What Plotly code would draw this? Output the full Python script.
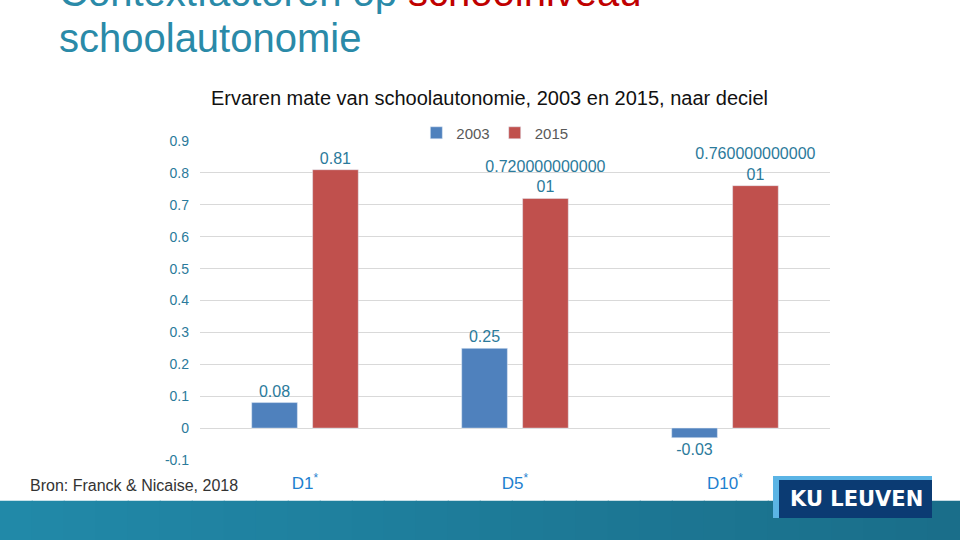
import plotly.graph_objects as go

# ---- data ----
deciles = ["D1", "D5", "D10"]
decile_labels = ["D1<sup>*</sup>", "D5<sup>*</sup>", "D10<sup>*</sup>"]
values_2003 = [0.08, 0.25, -0.03]
values_2015 = [0.81, 0.72, 0.76]
labels_2003 = ["0.08", "0.25", "-0.03"]
labels_2015 = ["0.81", "0.720000000000<br>01", "0.760000000000<br>01"]
y_ticks = [-0.1, 0, 0.1, 0.2, 0.3, 0.4, 0.5, 0.6, 0.7, 0.8, 0.9]

BLUE = "#4F81BD"
RED = "#C0504D"
LABEL = "#2B7A9B"
TEAL = "#2A8AA8"
SANS = "Liberation Sans, Arial, sans-serif"

fig = go.Figure()

for vals, labs, name, color in [
    (values_2003, labels_2003, "2003", BLUE),
    (values_2015, labels_2015, "2015", RED),
]:
    fig.add_trace(go.Bar(
        x=deciles, y=vals, name=name,
        marker_color=color,
        text=labs, textposition="outside", constraintext="none",
        outsidetextfont=dict(color=LABEL, size=16, family=SANS),
        cliponaxis=False,
    ))

fig.update_layout(
    width=960, height=540,
    paper_bgcolor="white", plot_bgcolor="white",
    margin=dict(l=200, r=130, t=141, b=80),
    barmode="group", bargap=0.42, bargroupgap=0.25,
    showlegend=True,
    legend=dict(
        orientation="h", x=0.468, xanchor="center", y=1.025, yanchor="middle",
        font=dict(size=15, color="#595959", family=SANS),
        itemwidth=30, traceorder="normal", bgcolor="rgba(0,0,0,0)",
    ),
    font=dict(family=SANS),
)

fig.update_yaxes(
    range=[-0.1, 0.9], tickvals=y_ticks,
    ticktext=[f"{v:g}" for v in y_ticks],
    showgrid=True, gridcolor="#D9D9D9", gridwidth=1,
    zeroline=False, showline=False,
    tickfont=dict(size=14, color=LABEL),
    ticks="", ticklabelstandoff=10,
)
fig.update_xaxes(
    tickvals=deciles, ticktext=decile_labels,
    showgrid=False, showline=False, ticks="",
    tickfont=dict(size=17, color="#1E7FCF"),
    ticklabelstandoff=11,
)

# ---- chart title ----
fig.add_annotation(
    text="Ervaren mate van schoolautonomie, 2003 en 2015, naar deciel",
    xref="paper", yref="paper", x=0.46, y=1.135, xanchor="center", yanchor="middle",
    showarrow=False, font=dict(size=20, color="#111111"),
)

# ---- slide title (first line partly cut off at the top) ----
fig.add_annotation(
    text="Contextfactoren op <span style='color:#C00000'>schoolniveau</span>",
    xref="paper", yref="paper", x=-0.227, y=1.467, xanchor="left", yanchor="middle",
    showarrow=False, font=dict(size=40, color=TEAL, family=SANS),
)
fig.add_annotation(
    text="schoolautonomie",
    xref="paper", yref="paper", x=-0.227, y=1.323, xanchor="left", yanchor="middle",
    showarrow=False, font=dict(size=40, color=TEAL, family=SANS),
)

# ---- source ----
fig.add_annotation(
    text="Bron: Franck & Nicaise, 2018",
    xref="paper", yref="paper", x=-0.273, y=-0.08, xanchor="left", yanchor="middle",
    showarrow=False, font=dict(size=16, color="#333333", family=SANS),
)

# ---- bottom band (gradient approximated by strips) ----
n_strips = 30
c0 = (33, 137, 168)
c1 = (26, 110, 138)
for i in range(n_strips):
    t = i / (n_strips - 1)
    col = tuple(round(a + (b - a) * t) for a, b in zip(c0, c1))
    fig.add_shape(
        type="rect", xref="paper", yref="paper",
        x0=-0.318 + i * (1.524 / n_strips), x1=-0.318 + (i + 1) * (1.524 / n_strips) + 0.002,
        y0=-0.26, y1=-0.128,
        fillcolor=f"rgb{col}", line_width=0, layer="above",
    )

# ---- KU Leuven logo ----
fig.add_shape(type="rect", xref="paper", yref="paper",
              x0=(773 - 200) / 630, x1=(932 - 200) / 630,
              y0=(460 - 518) / 319, y1=(460 - 476) / 319,
              fillcolor="#5BB4E5", line_width=0, layer="above")
fig.add_shape(type="rect", xref="paper", yref="paper",
              x0=(779 - 200) / 630, x1=(932 - 200) / 630,
              y0=(460 - 518) / 319, y1=(460 - 480) / 319,
              fillcolor="#0B3B73", line_width=0, layer="above")
fig.add_annotation(
    text="<b>KU LEUVEN</b>",
    xref="paper", yref="paper", x=(856 - 200) / 630, y=(460 - 499) / 319,
    xanchor="center", yanchor="middle", showarrow=False,
    font=dict(size=21, color="white", family="DejaVu Sans, Liberation Sans, sans-serif"),
)

fig.write_html(
    "out.html",
    config={"displayModeBar": False},
    post_script="document.body.style.margin='0';document.body.style.padding='0';",
)
